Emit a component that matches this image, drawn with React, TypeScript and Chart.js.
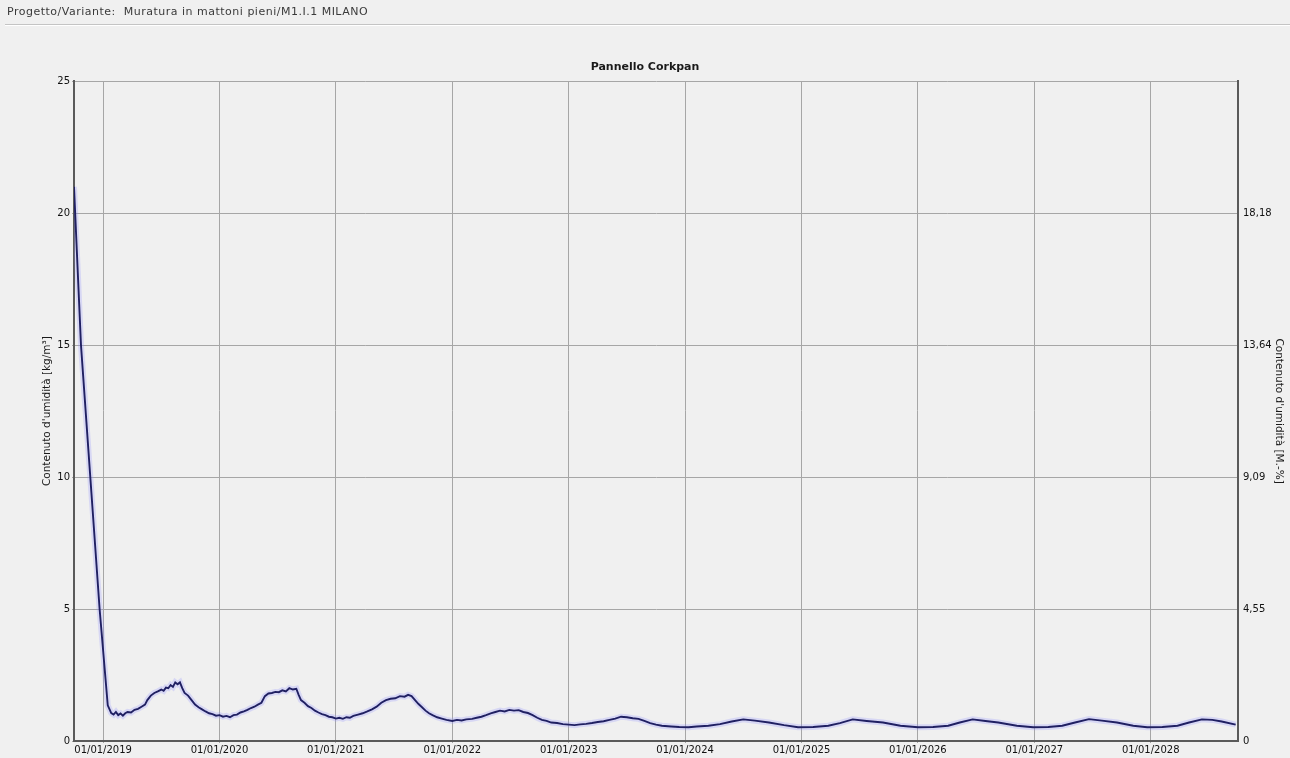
import React, { useEffect, useRef } from "react";
import { Chart, registerables } from "chart.js";

Chart.register(...registerables);

const PROJECT_LABEL = "Progetto/Variante:";
const PROJECT_NAME = "Muratura in mattoni pieni/M1.I.1 MILANO";
const CHART_TITLE = "Pannello Corkpan";
const LEFT_AXIS_TITLE = "Contenuto d'umidità [kg/m³]";
const RIGHT_AXIS_TITLE = "Contenuto d'umidità [M.-%]";

// time in fractional years
const timeYears = [
  2018.75, 2018.81, 2018.89, 2018.97, 2019.04, 2019.07, 2019.09, 2019.11, 2019.13, 2019.15,
  2019.17, 2019.19, 2019.21, 2019.24, 2019.27, 2019.3, 2019.33, 2019.36, 2019.38, 2019.41,
  2019.44, 2019.47, 2019.5, 2019.52, 2019.54, 2019.56, 2019.58, 2019.6, 2019.62, 2019.64,
  2019.66, 2019.68, 2019.7, 2019.73, 2019.76, 2019.79, 2019.82, 2019.85, 2019.88, 2019.91,
  2019.94, 2019.97, 2020.0, 2020.03, 2020.06, 2020.09, 2020.12, 2020.15, 2020.18, 2020.21,
  2020.24, 2020.27, 2020.3, 2020.33, 2020.36, 2020.39, 2020.42, 2020.45, 2020.48, 2020.51,
  2020.54, 2020.57, 2020.6, 2020.63, 2020.66, 2020.68, 2020.7, 2020.73, 2020.76, 2020.79,
  2020.82, 2020.85, 2020.88, 2020.91, 2020.94, 2020.97, 2021.0, 2021.03, 2021.06, 2021.09,
  2021.12, 2021.15, 2021.19, 2021.23, 2021.27, 2021.31, 2021.35, 2021.39, 2021.43, 2021.47,
  2021.51, 2021.55, 2021.59, 2021.62, 2021.65, 2021.68, 2021.71, 2021.74, 2021.77, 2021.8,
  2021.83, 2021.87, 2021.91, 2021.95, 2022.0, 2022.04, 2022.08, 2022.12, 2022.17, 2022.21,
  2022.25, 2022.29, 2022.33, 2022.37, 2022.41, 2022.45, 2022.49, 2022.53, 2022.57, 2022.61,
  2022.65, 2022.69, 2022.73, 2022.77, 2022.81, 2022.85, 2022.9, 2022.95, 2023.0, 2023.05,
  2023.1, 2023.15, 2023.2, 2023.25, 2023.3, 2023.35, 2023.4, 2023.45, 2023.5, 2023.55,
  2023.6, 2023.65, 2023.7, 2023.75, 2023.8, 2023.88, 2023.95, 2024.03, 2024.1, 2024.2,
  2024.3, 2024.4, 2024.5, 2024.6, 2024.72, 2024.85, 2024.97, 2025.1, 2025.23, 2025.33,
  2025.44, 2025.56, 2025.7, 2025.85, 2026.0, 2026.13, 2026.26, 2026.36, 2026.47, 2026.58,
  2026.69, 2026.85, 2026.99, 2027.12, 2027.24, 2027.35, 2027.47, 2027.58, 2027.71, 2027.85,
  2027.97, 2028.1, 2028.23, 2028.33, 2028.44, 2028.53, 2028.61, 2028.73,
];

// moisture content in kg/m³
const moistureKgM3 = [
  21.0, 15.0, 10.0, 5.0, 1.35, 1.06, 1.0, 1.1, 0.98, 1.04,
  0.96, 1.05, 1.1, 1.08, 1.18, 1.22, 1.3, 1.38, 1.55, 1.72,
  1.82, 1.88, 1.95, 1.9, 2.02, 2.0, 2.12, 2.05, 2.22, 2.15,
  2.22, 2.0, 1.82, 1.72, 1.55, 1.38, 1.28, 1.2, 1.12, 1.05,
  1.02, 0.96, 0.98, 0.92, 0.95, 0.9, 0.98, 1.0, 1.08, 1.12,
  1.18, 1.25, 1.3, 1.38, 1.45, 1.7, 1.8, 1.82, 1.86, 1.85,
  1.92, 1.88, 2.0, 1.95, 1.98, 1.75, 1.55, 1.45, 1.32, 1.25,
  1.15, 1.08, 1.02, 0.98, 0.92, 0.9, 0.85, 0.88, 0.84, 0.9,
  0.88, 0.95, 1.0, 1.05, 1.12, 1.2, 1.3, 1.45, 1.55, 1.6,
  1.62, 1.7, 1.68, 1.75, 1.7, 1.55, 1.4, 1.28, 1.15, 1.05,
  0.98, 0.9, 0.85, 0.8, 0.76, 0.8, 0.78, 0.82, 0.84, 0.88,
  0.92, 0.98, 1.05, 1.1, 1.15, 1.12, 1.18, 1.15, 1.17, 1.1,
  1.06, 0.98, 0.88, 0.8, 0.76, 0.7, 0.68, 0.64, 0.62, 0.6,
  0.63, 0.65, 0.68, 0.72, 0.75, 0.8, 0.85, 0.92, 0.9, 0.86,
  0.84, 0.76, 0.68, 0.62, 0.58, 0.55, 0.53, 0.52, 0.55, 0.58,
  0.64, 0.74, 0.82, 0.77, 0.7, 0.6, 0.52, 0.53, 0.58, 0.68,
  0.82, 0.76, 0.7, 0.58, 0.52, 0.53, 0.58, 0.7, 0.82, 0.76,
  0.7, 0.58, 0.52, 0.53, 0.58, 0.7, 0.83, 0.77, 0.7, 0.58,
  0.52, 0.53, 0.58, 0.7, 0.82, 0.8, 0.74, 0.62,
];

const xTickYears = [2019, 2020, 2021, 2022, 2023, 2024, 2025, 2026, 2027, 2028];
const leftTickValues = [0, 5, 10, 15, 20, 25];
const rightTickValues = [0, 4.545, 9.091, 13.636, 18.182];
const rightTickLabels = ["0", "4,55", "9,09", "13,64", "18,18"];

const X_MIN = 2018.75;
const X_MAX = 2028.75;
const LEFT_MAX = 25;
const RIGHT_MAX = 25 / 1.1;

const FONT = "'DejaVu Sans', Verdana, sans-serif";

export default function App() {
  const canvasRef = useRef<HTMLCanvasElement | null>(null);

  useEffect(() => {
    document.body.style.margin = "0";
    document.body.style.background = "#f0f0f0";
    const canvas = canvasRef.current;
    if (!canvas) return;
    const points = timeYears.map((t, i) => ({ x: t, y: moistureKgM3[i] }));
    const tickFont = { family: FONT, size: 10 };
    const chart = new Chart(canvas, {
      type: "line",
      data: {
        datasets: [
          {
            data: points,
            borderColor: "rgba(150,150,255,0.28)",
            borderWidth: 6,
            pointRadius: 0,
            tension: 0,
            yAxisID: "y",
            order: 2,
          },
          {
            data: points,
            borderColor: "#202062",
            borderWidth: 1.9,
            pointRadius: 0,
            tension: 0,
            yAxisID: "y",
            order: 1,
          },
        ],
      },
      options: {
        animation: false,
        responsive: false,
        layout: { padding: 0 },
        plugins: {
          legend: { display: false },
          tooltip: { enabled: false },
          title: {
            display: true,
            text: CHART_TITLE,
            color: "#1a1a1a",
            font: { family: FONT, size: 11, weight: "bold" },
            padding: { top: 61, bottom: 7 },
          },
        },
        scales: {
          x: {
            type: "linear",
            min: X_MIN,
            max: X_MAX,
            afterBuildTicks: (s: any) => {
              s.ticks = xTickYears.map((v) => ({ value: v }));
            },
            afterFit: (s: any) => {
              s.height = 17;
            },
            ticks: {
              autoSkip: false,
              maxRotation: 0,
              padding: 1,
              color: "#111111",
              font: tickFont,
              callback: (v: any) => `01/01/${Math.round(Number(v))}`,
            },
            grid: { color: "#a6a6a6", lineWidth: 1, tickLength: 2 },
            border: { color: "#5a5a5a", width: 2 },
          },
          y: {
            position: "left",
            min: 0,
            max: LEFT_MAX,
            afterBuildTicks: (s: any) => {
              s.ticks = leftTickValues.map((v) => ({ value: v }));
            },
            afterFit: (s: any) => {
              s.width = 74;
            },
            ticks: {
              padding: 2,
              color: "#111111",
              font: tickFont,
              callback: (v: any) => String(v),
            },
            grid: { color: "#a6a6a6", lineWidth: 1, tickLength: 2 },
            border: { color: "#5a5a5a", width: 2 },
            title: {
              display: true,
              text: LEFT_AXIS_TITLE,
              color: "#1a1a1a",
              font: { family: FONT, size: 10.5 },
              padding: { top: 41, bottom: 0 },
            },
          },
          y2: {
            position: "right",
            min: 0,
            max: RIGHT_MAX,
            afterBuildTicks: (s: any) => {
              s.ticks = rightTickValues.map((v) => ({ value: v }));
            },
            afterFit: (s: any) => {
              s.width = 52;
            },
            ticks: {
              padding: 3,
              color: "#111111",
              font: tickFont,
              callback: (_v: any, i: number) => rightTickLabels[i],
            },
            grid: { display: false, tickLength: 2 },
            border: { color: "#5a5a5a", width: 2 },
            title: {
              display: true,
              text: RIGHT_AXIS_TITLE,
              color: "#1a1a1a",
              font: { family: FONT, size: 10.5 },
              padding: { top: 5, bottom: 0 },
            },
          },
        },
      },
    } as any);
    return () => chart.destroy();
  }, []);

  return (
    <div
      style={{
        position: "fixed",
        left: 0,
        top: 0,
        width: 1290,
        height: 758,
        background: "#f0f0f0",
        overflow: "hidden",
      }}
    >
      <canvas
        ref={canvasRef}
        width={1290}
        height={758}
        style={{ position: "absolute", left: 0, top: 0, width: 1290, height: 758 }}
      />
      <div
        style={{
          position: "absolute",
          left: 7,
          top: 5,
          fontFamily: FONT,
          fontSize: 11,
          letterSpacing: 0.5,
          color: "#3a3a3a",
          whiteSpace: "pre",
        }}
      >
        {PROJECT_LABEL + "  " + PROJECT_NAME}
      </div>
      <div
        style={{
          position: "absolute",
          left: 5,
          right: 0,
          top: 24,
          height: 1,
          background: "#c4c4c4",
          borderBottom: "1px solid #ffffff",
        }}
      />
    </div>
  );
}
